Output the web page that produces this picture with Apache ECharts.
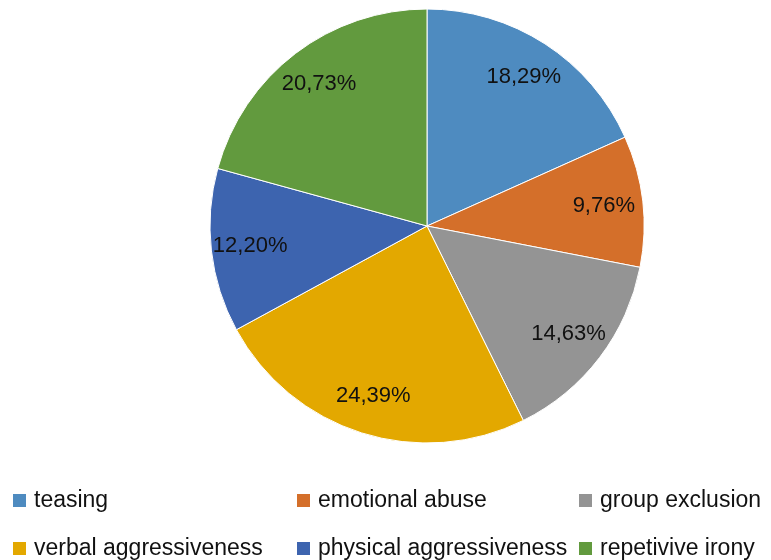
<!DOCTYPE html>
<html>
<head>
<meta charset="utf-8">
<script src="https://cdn.jsdelivr.net/npm/echarts@6/dist/echarts.min.js"></script>
<style>
  html, body { margin: 0; padding: 0; background: #fff; }
  #chart { width: 771px; height: 560px; }
</style>
</head>
<body>
<div id="chart"></div>
<script>
// categories + shares (in %)
const categories = ['teasing', 'emotional abuse', 'group exclusion', 'verbal aggressiveness', 'physical aggressiveness', 'repetivive irony'];
const values = [18.29, 9.76, 14.63, 24.39, 12.20, 20.73];
const colors = ['#4E8BC0', '#D46F2A', '#949494', '#E3A800', '#3D64AF', '#629A3E'];

const FONT = '"Liberation Sans", Arial, sans-serif';

const pieData = categories.map((c, i) => ({ name: c, value: values[i] }));

// legend spots (3 columns x 2 rows), one legend per item so it lines up like the original
const legendCols = [11, 295, 577];
const legendRows = [489, 537];
const legends = categories.map((c, i) => ({
    data: [c],
    left: legendCols[i % 3],
    top: legendRows[Math.floor(i / 3)],
    padding: 0,
    orient: 'horizontal',
    itemWidth: 15,
    itemHeight: 15,
    itemGap: 0,
    icon: 'rect',
    selectedMode: false,
    textStyle: { fontFamily: FONT, fontSize: 23, lineHeight: 15, color: '#111', padding: [0, 0, 0, 2] }
}));

const chart = echarts.init(document.getElementById('chart'), null, { renderer: 'canvas' });
chart.setOption({
    animation: false,
    color: colors,
    legend: legends,
    series: [
        {
            type: 'pie',
            center: [427, 226],
            radius: 217,
            startAngle: 90,
            clockwise: true,
            silent: true,
            itemStyle: { borderColor: '#fff', borderWidth: 1 },
            label: { show: false },
            labelLine: { show: false },
            data: pieData
        },
        {
            // label-only ring so the percents sit near the outer edge
            type: 'pie',
            center: [427, 226],
            radius: [133, 217],
            startAngle: 90,
            clockwise: true,
            silent: true,
            itemStyle: { color: 'transparent' },
            label: {
                show: true,
                position: 'inside',
                fontFamily: FONT,
                fontSize: 22,
                color: '#111',
                formatter: p => p.value.toFixed(2).replace('.', ',') + '%'
            },
            labelLine: { show: false },
            data: pieData
        }
    ]
});
</script>
</body>
</html>
